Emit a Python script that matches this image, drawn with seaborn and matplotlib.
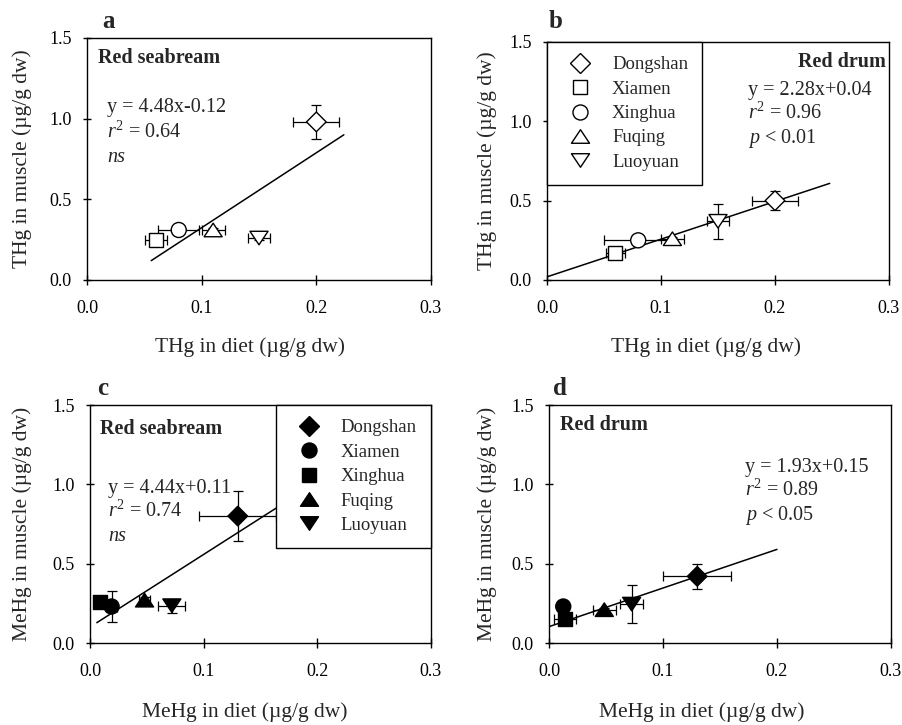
import numpy as np
import pandas as pd
import matplotlib
matplotlib.use("Agg")
import matplotlib.pyplot as plt
from matplotlib.lines import Line2D
from matplotlib.path import Path
import seaborn as sns

# ---------------- data ----------------
sites = ["Dongshan", "Xiamen", "Xinghua", "Fuqing", "Luoyuan"]

# a: THg, red seabream
a_x = [0.200, 0.060, 0.080, 0.110, 0.150]
a_xerr = [0.020, 0.0095, 0.018, 0.010, 0.010]
a_y = [0.98, 0.25, 0.31, 0.31, 0.26]
a_yerr = [0.105, 0.02, 0.01, 0.01, 0.01]
a_fit_x = [0.056, 0.224]
a_fit_y = [0.12, 0.90]

# b: THg, red drum
b_x = [0.200, 0.060, 0.080, 0.110, 0.150]
b_xerr = [0.020, 0.008, 0.030, 0.010, 0.010]
b_y = [0.50, 0.17, 0.25, 0.26, 0.37]
b_yerr = [0.06, 0.02, 0.01, 0.01, 0.11]
b_fit_x = [0.0, 0.248]
b_fit_y = [0.02, 0.609]

# c: MeHg, red seabream
c_x = [0.130, 0.019, 0.009, 0.048, 0.072]
c_xerr = [0.034, 0.005, 0.004, 0.005, 0.012]
c_y = [0.80, 0.23, 0.26, 0.27, 0.235]
c_yerr = [0.16, 0.095, 0.02, 0.02, 0.045]
c_fit_x = [0.006, 0.200]
c_fit_y = [0.128, 1.016]

# d: MeHg, red drum
d_x = [0.130, 0.0125, 0.014, 0.0485, 0.0725]
d_xerr = [0.030, 0.003, 0.010, 0.010, 0.010]
d_y = [0.42, 0.23, 0.15, 0.21, 0.245]
d_yerr = [0.08, 0.01, 0.01, 0.01, 0.12]
d_fit_x = [0.0, 0.200]
d_fit_y = [0.103, 0.59]

x_ticks = [0.0, 0.1, 0.2, 0.3]
y_ticks = [0.0, 0.5, 1.0, 1.5]
tick_labels_x = ["0.0", "0.1", "0.2", "0.3"]
tick_labels_y = ["0.0", "0.5", "1.0", "1.5"]

# ---------------- style ----------------
sns.set_style("ticks")
plt.rcParams["font.family"] = ["Liberation Serif", "DejaVu Serif"]
plt.rcParams["mathtext.fontset"] = "custom"
plt.rcParams["mathtext.rm"] = "Liberation Serif"
plt.rcParams["mathtext.it"] = "Liberation Serif:italic"
plt.rcParams["mathtext.bf"] = "Liberation Serif:bold"

W, H = 902, 725
fig = plt.figure(figsize=(W / 100, H / 100), dpi=100)


def rect(l, t, r, b):
    return [l / W, 1 - b / H, (r - l) / W, (b - t) / H]


def fpos(x, y):
    return x / W, 1 - y / H


tri_up = Path([(-1, -0.75), (1, -0.75), (0, 0.75), (-1, -0.75)],
              [Path.MOVETO, Path.LINETO, Path.LINETO, Path.CLOSEPOLY])
tri_dn = Path([(-1, 0.75), (1, 0.75), (0, -0.75), (-1, 0.75)],
              [Path.MOVETO, Path.LINETO, Path.LINETO, Path.CLOSEPOLY])
mk_ab = {"Dongshan": "D", "Xiamen": "s", "Xinghua": "o", "Fuqing": tri_up, "Luoyuan": tri_dn}
mk_cd = {"Dongshan": "D", "Xiamen": "o", "Xinghua": "s", "Fuqing": tri_up, "Luoyuan": tri_dn}
sz_ab = {"Dongshan": 100, "Xiamen": 100, "Xinghua": 117, "Fuqing": 169, "Luoyuan": 169}
sz_cd = {"Dongshan": 100, "Xiamen": 117, "Xinghua": 100, "Fuqing": 169, "Luoyuan": 169}

FS_TICK = 13
FS_LAB = 15.5
FS_TXT = 14.5
FS_LEG = 13.5

panels = [
    dict(r=(87, 38, 431, 280), x=a_x, y=a_y, xe=a_xerr, ye=a_yerr, fx=a_fit_x, fy=a_fit_y,
         mk=mk_ab, sz=sz_ab, face="white", xl="THg in diet (\u00b5g/g dw)", yl="THg in muscle (\u00b5g/g dw)",
         ylc=-0.160, xlc=(0.474, -0.236)),
    dict(r=(547, 42, 889, 280), x=b_x, y=b_y, xe=b_xerr, ye=b_yerr, fx=b_fit_x, fy=b_fit_y,
         mk=mk_ab, sz=sz_ab, face="white", xl="THg in diet (\u00b5g/g dw)", yl="THg in muscle (\u00b5g/g dw)",
         ylc=-0.146, xlc=(0.465, -0.239)),
    dict(r=(90, 405, 431, 643), x=c_x, y=c_y, xe=c_xerr, ye=c_yerr, fx=c_fit_x, fy=c_fit_y,
         mk=mk_cd, sz=sz_cd, face="black", xl="MeHg in diet (\u00b5g/g dw)", yl="MeHg in muscle (\u00b5g/g dw)",
         ylc=-0.170, xlc=(0.455, -0.248)),
    dict(r=(549, 405, 891, 643), x=d_x, y=d_y, xe=d_xerr, ye=d_yerr, fx=d_fit_x, fy=d_fit_y,
         mk=mk_cd, sz=sz_cd, face="black", xl="MeHg in diet (\u00b5g/g dw)", yl="MeHg in muscle (\u00b5g/g dw)",
         ylc=-0.152, xlc=(0.447, -0.248)),
]

axes = []
for p in panels:
    ax = fig.add_axes(rect(*p["r"]))
    axes.append(ax)
    df = pd.DataFrame({"site": sites, "x": p["x"], "y": p["y"]})
    fit = pd.DataFrame({"x": p["fx"], "y": p["fy"]})
    sns.lineplot(data=fit, x="x", y="y", color="black", lw=1.1, ax=ax, zorder=2)
    ax.errorbar(p["x"], p["y"], xerr=p["xe"], yerr=p["ye"], fmt="none", ecolor="black",
                elinewidth=0.9, capsize=3.3, capthick=0.9, zorder=2.5)
    sns.scatterplot(data=df, x="x", y="y", style="site", style_order=sites, markers=p["mk"],
                    size="site", sizes=p["sz"], size_order=sites,
                    color=p["face"], edgecolor="black", linewidth=1.0, legend=False, ax=ax, zorder=3)
    ax.set_xlim(0, 0.3)
    ax.set_ylim(0, 1.5)
    ax.set_xticks(x_ticks)
    ax.set_xticklabels(tick_labels_x)
    ax.set_yticks(y_ticks)
    ax.set_yticklabels(tick_labels_y)
    ax.tick_params(axis="x", direction="inout", length=7, width=1.0, pad=11, labelsize=FS_TICK, colors="black")
    ax.tick_params(axis="y", direction="inout", length=6, width=1.0, pad=8, labelsize=FS_TICK, colors="black")
    for s in ax.spines.values():
        s.set_visible(True)
        s.set_color("black")
        s.set_linewidth(1.0)
    ax.set_xlabel(p["xl"], fontsize=FS_LAB, va="top")
    ax.set_ylabel(p["yl"], fontsize=FS_LAB)
    ax.xaxis.set_label_coords(*p["xlc"])
    ax.yaxis.set_label_coords(p["ylc"], 0.5)
    ax.set_facecolor("white")

# panel letters
for letter, (lx, ly) in zip("abcd", [(102, 28), (549, 28), (97, 395), (553, 395)]):
    fig.text(*fpos(lx, ly), letter, fontsize=18, fontweight="bold", va="baseline", ha="left")

# annotations
fig.text(*fpos(98, 63), "Red seabream", fontsize=FS_TXT, fontweight="bold", va="baseline")
fig.text(*fpos(107, 112), "y = 4.48x-0.12", fontsize=FS_TXT, va="baseline")
fig.text(*fpos(107, 138), "$r^2$ = 0.64", fontsize=FS_TXT, va="baseline")
fig.text(*fpos(107, 162), "ns", fontsize=FS_TXT, style="italic", va="baseline")

fig.text(*fpos(886, 67), "Red drum", fontsize=FS_TXT, fontweight="bold", va="baseline", ha="right")
fig.text(*fpos(748, 95), "y = 2.28x+0.04", fontsize=FS_TXT, va="baseline")
fig.text(*fpos(748, 119), "$r^2$ = 0.96", fontsize=FS_TXT, va="baseline")
fig.text(*fpos(748, 143), "$p$ < 0.01", fontsize=FS_TXT, va="baseline")

fig.text(*fpos(100, 434), "Red seabream", fontsize=FS_TXT, fontweight="bold", va="baseline")
fig.text(*fpos(108, 493), "y = 4.44x+0.11", fontsize=FS_TXT, va="baseline")
fig.text(*fpos(108, 517), "$r^2$ = 0.74", fontsize=FS_TXT, va="baseline")
fig.text(*fpos(108, 541), "ns", fontsize=FS_TXT, style="italic", va="baseline")

fig.text(*fpos(560, 430), "Red drum", fontsize=FS_TXT, fontweight="bold", va="baseline")
fig.text(*fpos(745, 472), "y = 1.93x+0.15", fontsize=FS_TXT, va="baseline")
fig.text(*fpos(745, 496), "$r^2$ = 0.89", fontsize=FS_TXT, va="baseline")
fig.text(*fpos(745, 520), "$p$ < 0.05", fontsize=FS_TXT, va="baseline")


def legend_handles(mk, sz, face):
    hs = []
    for s in sites:
        hs.append(Line2D([], [], linestyle="none", marker=mk[s], markersize=np.sqrt(sz[s]),
                         markerfacecolor=face, markeredgecolor="black", markeredgewidth=1.0, label=s))
    return hs


leg_kw = dict(fontsize=FS_LEG, frameon=True, fancybox=False, framealpha=1, edgecolor="black",
              borderaxespad=0, handlelength=2.03, handletextpad=0.69, labelspacing=0.39, borderpad=0.75)
lb = axes[1].legend(handles=legend_handles(mk_ab, sz_ab, "white"), loc="upper left",
                    bbox_to_anchor=(0, 1), **leg_kw)
lb.get_frame().set_linewidth(1.0)
lc = axes[2].legend(handles=legend_handles(mk_cd, sz_cd, "black"), loc="upper right",
                    bbox_to_anchor=(1, 1), **leg_kw)
lc.get_frame().set_linewidth(1.0)

fig.savefig("out.png", dpi=100, facecolor="white")
